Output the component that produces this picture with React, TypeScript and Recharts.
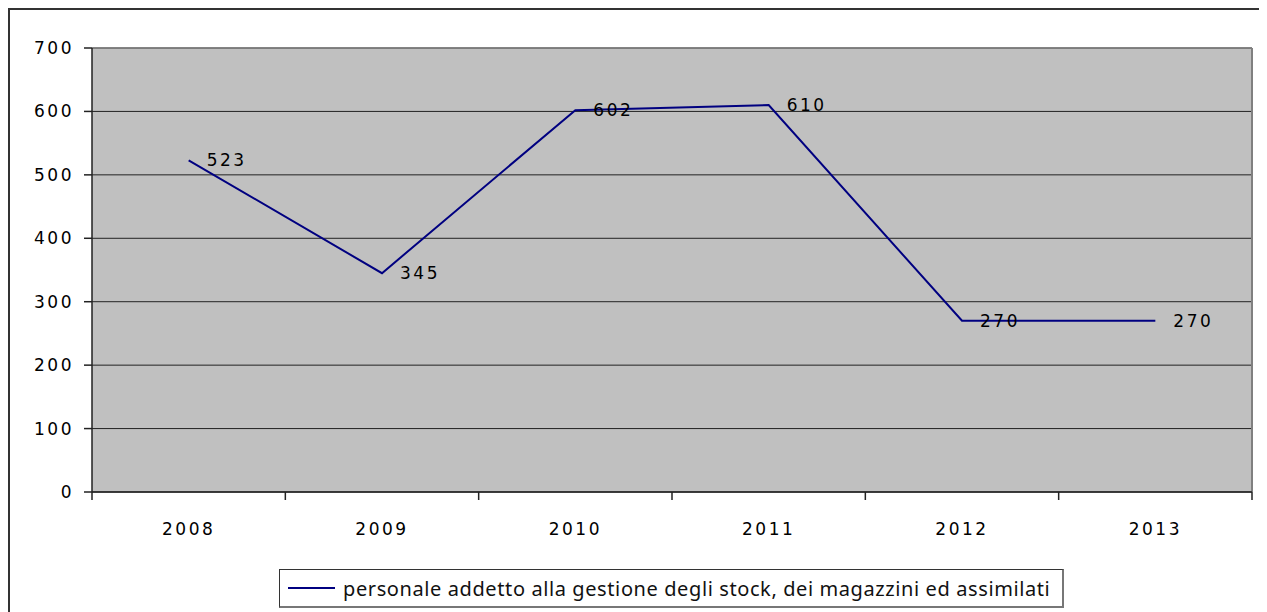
import React from "react";
import {
  LineChart,
  Line,
  XAxis,
  YAxis,
  CartesianGrid,
  Legend,
  LabelList,
  ReferenceLine,
} from "recharts";

const years = ["2008", "2009", "2010", "2011", "2012", "2013"];
const values = [523, 345, 602, 610, 270, 270];
const yTicks = [0, 100, 200, 300, 400, 500, 600, 700];
const seriesName =
  "personale addetto alla gestione degli stock, dei magazzini ed assimilati";

const data = years.map((year, i) => ({ year, pos: i + 0.5, value: values[i] }));
const boundaryTicks = years.map((_, i) => i).concat(years.length);

const CHART_W = 1257;
const MARGIN = { top: 38, right: 15, bottom: 4, left: 0 };
const Y_AXIS_W = 82;
const bandW = (CHART_W - MARGIN.left - MARGIN.right - Y_AXIS_W) / years.length;

const numFont = {
  fontFamily: "'DejaVu Sans', sans-serif",
  fontSize: 17,
  letterSpacing: 2.5,
  fill: "#000",
};

// ticks sit on category boundaries, the year label goes in the middle of each band
function YearTick(props: any) {
  const { x, y, payload } = props;
  const i = payload.value;
  if (i >= years.length) return <g />;
  return (
    <text x={x + bandW / 2} y={y} dy="0.71em" textAnchor="middle" style={numFont}>
      {years[i]}
    </text>
  );
}

function LegendBox() {
  return (
    <div
      style={{
        boxSizing: "border-box",
        width: 785,
        height: 39,
        border: "1px solid #333",
        borderRight: "2px solid #777",
        borderBottom: "2px solid #777",
        background: "#fff",
        display: "flex",
        alignItems: "center",
        paddingLeft: 8,
      }}
    >
      <span
        style={{
          display: "inline-block",
          width: 47,
          height: 0,
          borderTop: "2px solid #000080",
          marginRight: 8,
        }}
      />
      <span
        style={{
          fontFamily: "'Noto Sans', sans-serif",
          fontSize: 20,
          letterSpacing: 0.6,
          color: "#111",
          whiteSpace: "nowrap",
        }}
      >
        {seriesName}
      </span>
    </div>
  );
}

export default function App() {
  return (
    <div
      style={{
        boxSizing: "border-box",
        width: 1259,
        height: 604,
        borderTop: "2px solid #333",
        borderLeft: "2px solid #333",
        background: "#fff",
      }}
    >
      <LineChart width={CHART_W} height={602} data={data} margin={MARGIN}>
        <CartesianGrid vertical={false} fill="#c0c0c0" stroke="#222" strokeWidth={1} />
        <XAxis
          dataKey="pos"
          type="number"
          domain={[0, years.length]}
          ticks={boundaryTicks}
          tick={<YearTick />}
          tickSize={8}
          tickMargin={23}
          height={77}
          stroke="#222"
          strokeWidth={1.5}
        />
        <YAxis
          domain={[0, 700]}
          ticks={yTicks}
          width={Y_AXIS_W}
          tickSize={8}
          tickMargin={10}
          stroke="#222"
          strokeWidth={1.5}
          tick={numFont}
        />
        <ReferenceLine y={700} stroke="#808080" strokeWidth={1.5} />
        <ReferenceLine x={years.length} stroke="#808080" strokeWidth={2} />
        <Line
          dataKey="value"
          name={seriesName}
          stroke="#000080"
          strokeWidth={2}
          dot={false}
          isAnimationActive={false}
        >
          <LabelList dataKey="value" position="right" offset={18} style={numFont} />
        </Line>
        <Legend
          verticalAlign="bottom"
          content={() => <LegendBox />}
          wrapperStyle={{ left: 269, width: 785 }}
        />
      </LineChart>
    </div>
  );
}
